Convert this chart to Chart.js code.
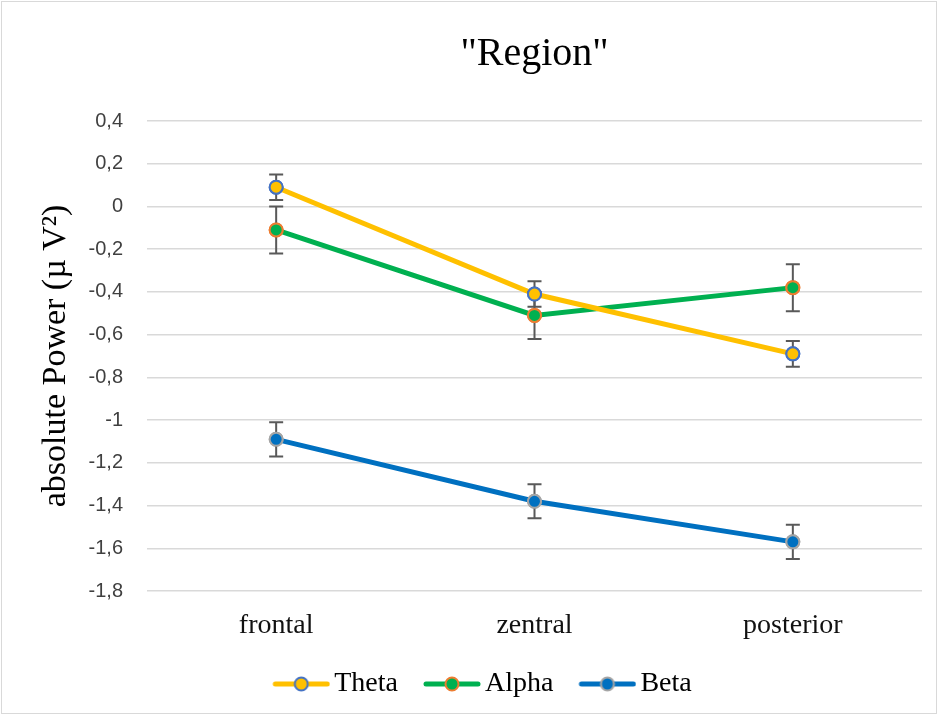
<!DOCTYPE html>
<html>
<head>
<meta charset="utf-8">
<script src="https://cdn.jsdelivr.net/npm/chart.js@4.4.1/dist/chart.umd.min.js"></script>
<style>
  html, body { margin: 0; padding: 0; background: #fff; }
  #wrap { width: 939px; height: 716px; position: relative; }
</style>
</head>
<body>
<div id="wrap"><canvas id="c" width="939" height="716"></canvas></div>
<script>
// Mean absolute power per region with standard errors
const categories = ['frontal', 'zentral', 'posterior'];
const thetaValues = [0.09, -0.41, -0.69];
const thetaErrors = [0.06, 0.06, 0.06];
const alphaValues = [-0.11, -0.51, -0.38];
const alphaErrors = [0.11, 0.11, 0.11];
const betaValues = [-1.09, -1.38, -1.57];
const betaErrors = [0.08, 0.08, 0.08];
const seriesNames = ['Theta', 'Alpha', 'Beta'];
const yMin = -1.8;
const yMax = 0.4;
const yStep = 0.2;

const colors = {
  theta: { line: '#FFC000', fill: '#FFC000', border: '#4472C4' },
  alpha: { line: '#00B050', fill: '#00B050', border: '#ED7D31' },
  beta:  { line: '#0070C0', fill: '#0070C0', border: '#A5A5A5' }
};

// Legend symbol: short line with the marker in its middle.
// The symbol box is wider than the drawn line so the gap between
// items can be set apart from the legend's vertical padding.
const legendBoxWidth = 56;
function legendMarker(c) {
  const cv = document.createElement('canvas');
  cv.width = legendBoxWidth + 20; cv.height = 20;
  const g = cv.getContext('2d');
  const x0 = legendBoxWidth - 38;
  g.strokeStyle = c.line; g.lineWidth = 5; g.lineCap = 'round';
  g.beginPath(); g.moveTo(x0 + 3, 10); g.lineTo(x0 + 55, 10); g.stroke();
  g.beginPath(); g.arc(x0 + 29, 10, 6.5, 0, Math.PI * 2);
  g.fillStyle = c.fill; g.fill();
  g.lineWidth = 2; g.strokeStyle = c.border; g.stroke();
  return cv;
}
const legendMarkers = [legendMarker(colors.theta), legendMarker(colors.alpha), legendMarker(colors.beta)];

function series(label, data, errors, c) {
  return {
    label, data, errors,
    borderColor: c.line, backgroundColor: c.fill,
    borderWidth: 5, tension: 0,
    pointRadius: 6.5, pointBorderWidth: 2,
    pointBackgroundColor: c.fill, pointBorderColor: c.border
  };
}

// White background and thin frame
const frame = {
  id: 'frame',
  beforeDraw(chart) {
    const ctx = chart.ctx;
    ctx.save();
    ctx.fillStyle = '#fff';
    ctx.fillRect(0, 0, chart.width, chart.height);
    ctx.strokeStyle = '#d9d9d9';
    ctx.lineWidth = 1;
    ctx.strokeRect(1.5, 1.5, chart.width - 4, chart.height - 4);
    ctx.restore();
  }
};

// Vertical error bars with caps, markers redrawn on top
const errorBars = {
  id: 'errorBars',
  afterDatasetsDraw(chart) {
    const ctx = chart.ctx;
    const y = chart.scales.y;
    const n = chart.data.datasets.length;
    for (let i = n - 1; i >= 0; i--) {
      const ds = chart.data.datasets[i];
      const meta = chart.getDatasetMeta(i);
      if (meta.hidden) continue;
      ctx.save();
      ctx.strokeStyle = '#595959';
      ctx.lineWidth = 2;
      meta.data.forEach((pt, j) => {
        const v = ds.data[j], e = ds.errors[j];
        const top = y.getPixelForValue(v + e);
        const bot = y.getPixelForValue(v - e);
        const x = pt.x;
        ctx.beginPath();
        ctx.moveTo(x, top); ctx.lineTo(x, bot);
        ctx.moveTo(x - 7, top); ctx.lineTo(x + 7, top);
        ctx.moveTo(x - 7, bot); ctx.lineTo(x + 7, bot);
        ctx.stroke();
      });
      ctx.restore();
    }
    for (let i = n - 1; i >= 0; i--) {
      const meta = chart.getDatasetMeta(i);
      if (meta.hidden) continue;
      meta.data.forEach(p => p.draw(ctx, chart.chartArea));
    }
  }
};

const padLeft = 34;

new Chart(document.getElementById('c'), {
  type: 'line',
  data: {
    labels: categories,
    datasets: [
      series(seriesNames[0], thetaValues, thetaErrors, colors.theta),
      series(seriesNames[1], alphaValues, alphaErrors, colors.alpha),
      series(seriesNames[2], betaValues, betaErrors, colors.beta)
    ]
  },
  options: {
    responsive: false,
    devicePixelRatio: 1,
    animation: false,
    layout: { padding: { left: padLeft, right: 17, top: 0, bottom: 8 } },
    plugins: {
      tooltip: { enabled: false },
      title: {
        display: true,
        text: '"Region"',
        fullSize: false,
        color: '#000',
        font: { family: 'Liberation Serif', size: 40, weight: 'normal' },
        padding: { top: 30, bottom: 43 }
      },
      legend: {
        position: 'bottom',
        labels: {
          usePointStyle: true,
          pointStyleWidth: legendBoxWidth,
          padding: 17,
          color: '#000',
          font: { family: 'Liberation Serif', size: 28 },
          generateLabels(chart) {
            const items = Chart.defaults.plugins.legend.labels.generateLabels(chart);
            items.forEach(it => { it.pointStyle = legendMarkers[it.datasetIndex]; });
            return items;
          }
        }
      }
    },
    scales: {
      x: {
        offset: true,
        grid: { display: false },
        border: { display: false },
        ticks: {
          color: '#111',
          padding: 13,
          font: { family: 'Liberation Serif', size: 28, lineHeight: 1 }
        }
      },
      y: {
        min: yMin,
        max: yMax,
        afterFit(scale) { scale.width = 147 - padLeft; },
        border: { display: false },
        grid: { color: '#d9d9d9', lineWidth: 1.5, drawTicks: false },
        ticks: {
          stepSize: yStep,
          padding: 24,
          color: '#404040',
          font: { family: 'Liberation Sans', size: 20 },
          callback(v) {
            const r = Math.round(v * 10) / 10;
            return (r === 0 ? '0' : String(r)).replace('.', ',');
          }
        },
        title: {
          display: true,
          text: 'absolute Power (µ V²)',
          color: '#000',
          font: { family: 'Liberation Serif', size: 34 },
          padding: { top: 2, bottom: 0 }
        }
      }
    }
  },
  plugins: [frame, errorBars]
});
</script>
</body>
</html>
